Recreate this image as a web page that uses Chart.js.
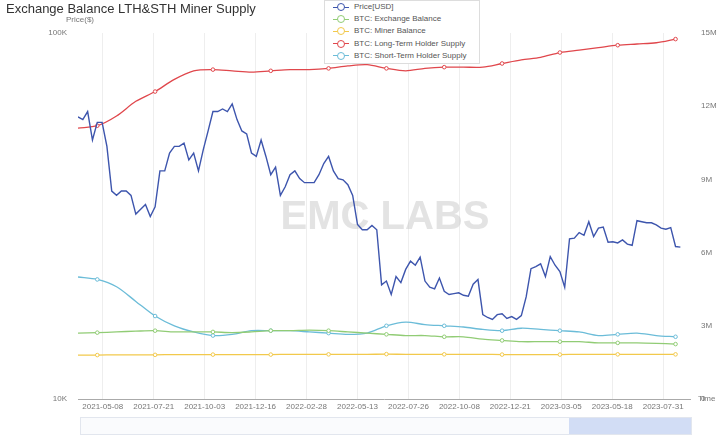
<!DOCTYPE html>
<html><head><meta charset="utf-8">
<script src="https://cdn.jsdelivr.net/npm/chart.js@4"></script>
<style>
body{margin:0;width:720px;height:437px;position:relative;font-family:"Liberation Sans",Arial,sans-serif;background:#fff;overflow:hidden}
#title{position:absolute;left:6px;top:1px;font-size:13px;color:#333}
#legend{position:absolute;left:324px;top:0px;width:154px;height:62px;border:1px solid #ddd;background:#fff;font-size:8px;color:#555}
#legend div{height:12.2px;line-height:12.2px;padding-left:8px;display:flex;align-items:center}
#legend span.i{position:relative;width:16px;height:8px;margin-right:5px;display:inline-block}
#legend span.i:before{content:"";position:absolute;left:0;right:0;top:3.5px;height:1px;background:var(--c)}
#legend span.i:after{content:"";position:absolute;left:4px;top:0;width:6px;height:6px;border:1px solid var(--c);border-radius:50%;background:#fff}
#slider{position:absolute;left:80px;top:417px;width:610px;height:16px;border:1px solid #e2e6ee;background:#fafbfd}
#sel{position:absolute;left:488px;top:0;width:122px;height:16px;background:rgba(135,165,230,0.35)}
canvas{position:absolute;left:0;top:0}
</style></head><body>
<canvas id="c" width="720" height="437"></canvas>
<div id="title">Exchange Balance LTH&amp;STH Miner Supply</div>
<div id="legend"></div>
<div id="slider"><div id="sel"></div></div>
<script>
const seriesNames=["Price[USD]","BTC: Exchange Balance","BTC: Miner Balance","BTC: Long-Term Holder Supply","BTC: Short-Term Holder Supply"];
const colors=["#3d55ad","#91cc75","#f2c94c","#e0474c","#6bbcd8"];
const priceStart="2021-04-02"; // weekly
const price=[59,58,61,51,57,57,49,37,36,37,37,36,32,33,34,31.5,33.5,42,42,47,49,49,50,45,47,42,48,54,61,61,62,61,64,58,54,53,47,46,51,46,
41,43,36,38,41,42,40,39,39,39,41,44,46,42,40,39.7,38.5,36,30,29,29,29.8,29,20.5,21,19.3,21.6,20.8,22.6,23.8,23.2,24.4,21,20.2,20,21.4,19.7,19.3,19.4,19.5,19.2,19.1,20.6,21.2,17,16.7,16.5,17,17.1,16.6,16.8,16.5,
16.9,19,22.7,23,23.4,21.6,24.5,23.2,22.3,20.2,27.4,27.5,28.5,28,30.5,27.8,29.3,29.5,26.8,26.9,26.7,27.2,26.5,26.3,30.7,30.5,30.3,30.3,29.9,29.3,29.1,29.4,26.1,26];
const supplyStart="2021-04-02"; // every 28 days, millions BTC
const lth=[11.1,11.2,11.6,12.2,12.6,13.1,13.45,13.5,13.45,13.4,13.45,13.5,13.5,13.55,13.65,13.7,13.55,13.45,13.55,13.6,13.6,13.6,13.75,13.9,14.0,14.2,14.3,14.4,14.5,14.55,14.6,14.75];
const sth=[5.0,4.9,4.6,4.0,3.4,3.0,2.75,2.6,2.65,2.8,2.8,2.8,2.75,2.7,2.65,2.7,3.0,3.15,3.05,3.0,2.95,2.85,2.8,2.9,2.85,2.8,2.75,2.6,2.65,2.7,2.6,2.55];
const exch=[2.7,2.72,2.75,2.78,2.8,2.75,2.75,2.75,2.72,2.75,2.8,2.8,2.82,2.8,2.75,2.7,2.65,2.6,2.6,2.55,2.55,2.45,2.4,2.35,2.35,2.35,2.35,2.3,2.3,2.3,2.28,2.25];
const miner=[1.8,1.8,1.81,1.81,1.81,1.82,1.82,1.82,1.82,1.82,1.82,1.83,1.83,1.83,1.83,1.83,1.84,1.83,1.83,1.83,1.83,1.83,1.82,1.82,1.82,1.82,1.83,1.83,1.83,1.83,1.83,1.83];
const xTickLabels=["2021-05-08","2021-07-21","2021-10-03","2021-12-16","2022-02-28","2022-05-13","2022-07-26","2022-10-08","2022-12-21","2023-03-05","2023-05-18","2023-07-31"];
const axisMin="2021-04-02", axisMax="2023-09-08";

const DAY=86400000;
const t=s=>Date.parse(s+"T00:00:00Z");
const pts=(arr,start,step,mul)=>arr.map((v,i)=>({x:t(start)+i*step*DAY,y:v*mul}));
document.getElementById('legend').innerHTML=seriesNames.map((n,i)=>`<div><span class="i" style="--c:${colors[i]}"></span>${n}</div>`).join('');
const sup=(arr,i)=>({label:seriesNames[i],data:pts(arr,supplyStart,28,1e6),yAxisID:'y2',borderColor:colors[i],backgroundColor:'#fff',borderWidth:1.3,pointRadius:c=>(c.dataIndex%3===1?1.8:0),pointBorderWidth:1,tension:0.3});
const wm={id:'wm',beforeDatasetsDraw(c){const x=c.ctx;x.save();x.font='bold 40px "Liberation Sans",Arial';x.fillStyle='rgba(200,200,200,0.5)';x.textAlign='center';x.textBaseline='middle';x.fillText('EMC LABS',385,218);
x.font='8px "Liberation Sans",Arial';x.fillStyle='#777';x.fillText('Price($)',80,20);x.textAlign='left';x.fillText('Time',698,399);x.restore();}};
new Chart(document.getElementById('c'),{type:'line',
data:{datasets:[
{label:seriesNames[0],data:pts(price,priceStart,7,1000),yAxisID:'y',borderColor:colors[0],borderWidth:1.4,pointRadius:0,tension:0},
sup(exch,1),sup(miner,2),sup(lth,3),sup(sth,4)]},
options:{responsive:false,animation:false,events:[],
layout:{padding:{top:33,bottom:20,left:0,right:0}},
plugins:{legend:{display:false},tooltip:{enabled:false}},
scales:{
x:{type:'linear',min:t(axisMin),max:t(axisMax),
afterBuildTicks(a){a.ticks=xTickLabels.map(s=>({value:t(s)}));},
ticks:{callback:(v)=>new Date(v).toISOString().slice(0,10),font:{size:8},color:'#777',maxRotation:0,autoSkip:false},
grid:{color:'#eee',drawTicks:false},border:{color:'#aaa'},afterFit(s){s.height=18;}},
y:{type:'logarithmic',min:10000,max:100000,position:'left',
afterBuildTicks(a){a.ticks=[{value:10000},{value:100000}];},
ticks:{callback:v=>v===100000?'100K':'10K',font:{size:8},color:'#777'},
grid:{display:false},border:{display:false},afterFit(s){s.width=78;}},
y2:{type:'linear',min:0,max:15e6,position:'right',
ticks:{stepSize:3e6,callback:v=>v===0?'0':(v/1e6)+'M',font:{size:8},color:'#777'},
grid:{display:false},border:{display:false},afterFit(s){s.width=30;}}
}},plugins:[wm]});
</script></body></html>
